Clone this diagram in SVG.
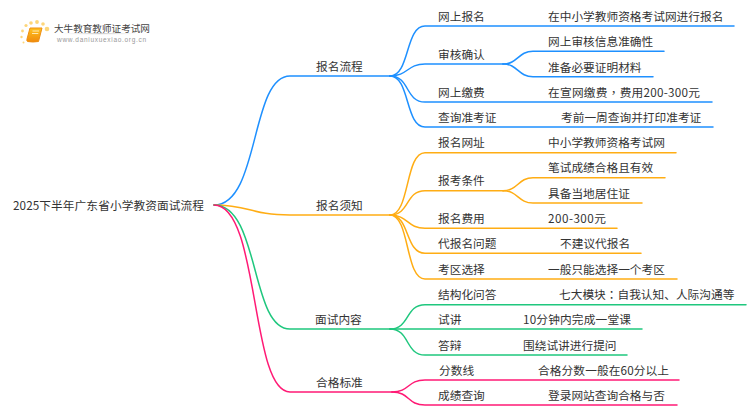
<svg xmlns="http://www.w3.org/2000/svg" width="750" height="410" viewBox="0 0 750 410">
<style>
text{font-family:"Noto Sans CJK SC","Noto Sans",sans-serif;font-size:11.7px;fill:#333}
.tc{font-family:"Noto Sans CJK TC","Noto Sans",sans-serif}
.c{fill:none;stroke-width:1.5;stroke-linecap:round}
.b{stroke:#1e90ff}.o{stroke:#ffad14}.g{stroke:#1fc77e}.p{stroke:#ff1a75}
.d{fill:#fdd67a}
</style>
<defs>
<linearGradient id="bk" x1="0" y1="0" x2="0" y2="1"><stop offset="0" stop-color="#ffc21f"/><stop offset="1" stop-color="#f08a0c"/></linearGradient>
<linearGradient id="ul" x1="0" y1="0" x2="1" y2="0"><stop offset="0" stop-color="#ddd" stop-opacity="0"/><stop offset=".5" stop-color="#ccc"/><stop offset="1" stop-color="#ddd" stop-opacity="0"/></linearGradient>
</defs>
<rect width="750" height="410" fill="#fff"/>
<g id="logo">
<circle class="d" cx="47" cy="29" r="2.300"/><circle class="d" cx="43" cy="24" r="1.800"/><circle class="d" cx="37" cy="22" r="1.900"/><circle class="d" cx="31" cy="23" r="1.800"/><circle class="d" cx="26" cy="25.500" r="1.600"/><circle class="d" cx="22.500" cy="31" r="1.400"/><circle class="d" cx="21.500" cy="37" r="1.200"/><circle class="d" cx="23.500" cy="42.500" r="1"/>
<path d="M30 28H42L38.500 41.500Q33 42.500 27.500 41.500Q26.500 41 27 39Z" fill="url(#bk)" stroke="#ee8f12" stroke-width="1" stroke-linejoin="round"/>
<path d="M32.500 31H39M32 33.500H38.300" stroke="#ffe9b0" stroke-width="1"/>
<text x="54" y="31.500" style="font-size:9.6px;fill:#444">大牛教育教师证考试网</text>
<rect x="62" y="33" width="76" height="1.200" fill="url(#ul)"/>
<text x="57" y="41.500" style="font-size:6.500px;fill:#999;letter-spacing:.7px;font-family:'Liberation Sans',sans-serif">www.daniuxuexiao.org.cn</text>
</g>
<g id="connectors">
<path class="c b" d="M214 205C260 205 250 76 290 76H390"/>
<path class="c o" d="M214 205C250 205 250 215 290 215H390"/>
<path class="c g" d="M214 205C260 205 250 329 290 329H390"/>
<path class="c p" d="M214 205C260 205 250 392 290 392H392"/>
<path class="c b" d="M390 76C410 76 405 26 425 26H734"/>
<path class="c b" d="M390 76C408 76 407 64 425 64H503"/>
<path class="c b" d="M503 64C518 64 518 51.300 533 51.300H664"/>
<path class="c b" d="M503 64C518 64 518 76.700 533 76.700H653"/>
<path class="c b" d="M390 76C410 76 405 102 425 102H712"/>
<path class="c b" d="M390 76C410 76 405 127 425 127H713"/>
<path class="c o" d="M390 215C410 215 405 152.700 425 152.700H676"/>
<path class="c o" d="M390 215C410 215 405 190.700 425 190.700H503"/>
<path class="c o" d="M503 190.700C518 190.700 518 177.700 533 177.700H665"/>
<path class="c o" d="M503 190.700C518 190.700 518 203 533 203H642"/>
<path class="c o" d="M390 215C408 215 407 228.300 425 228.300H617"/>
<path class="c o" d="M390 215C410 215 405 253.300 425 253.300H641"/>
<path class="c o" d="M390 215C410 215 405 279 425 279H677"/>
<path class="c g" d="M390 329C410 329 405 304.700 425 304.700H746"/>
<path class="c g" d="M390 329H642"/>
<path class="c g" d="M390 329C410 329 405 355 425 355H627"/>
<path class="c p" d="M392 392C410 392 407 380 425 380H679"/>
<path class="c p" d="M392 392C410 392 407 405 425 405H677"/>
</g>
<g id="root"><text x="13" y="210" textLength="191">2025下半年广东省小学教资面试流程</text></g>
<g id="n1"><text x="316" y="71">报名流程</text></g>
<g id="n1-1"><text x="438" y="21">网上报名</text><text x="548" y="21">在中小学教师资格考试网进行报名</text></g>
<g id="n1-2"><text x="438" y="59">审核确认</text><text x="548" y="46">网上审核信息准确性</text><text x="548" y="72">准备必要证明材料</text></g>
<g id="n1-3"><text x="438" y="97">网上缴费</text><text x="548" y="97" textLength="152">在宣网缴费<tspan class="tc">，</tspan>费用200-300元</text></g>
<g id="n1-4"><text x="438" y="122">查询准考证</text><text x="561" y="122">考前一周查询并打印准考证</text></g>
<g id="n2"><text x="316" y="210">报名须知</text></g>
<g id="n2-1"><text x="438" y="147">报名网址</text><text x="548" y="147">中小学教师资格考试网</text></g>
<g id="n2-2"><text x="438" y="185">报考条件</text><text x="548" y="172">笔试成绩合格且有效</text><text x="548" y="198">具备当地居住证</text></g>
<g id="n2-3"><text x="438" y="223">报名费用</text><text x="548" y="223" textLength="58">200-300元</text></g>
<g id="n2-4"><text x="438" y="248">代报名问题</text><text x="560" y="248">不建议代报名</text></g>
<g id="n2-5"><text x="438" y="274">考区选择</text><text x="548" y="274">一般只能选择一个考区</text></g>
<g id="n3"><text x="315" y="324">面试内容</text></g>
<g id="n3-1"><text x="438" y="299">结构化问答</text><text x="559" y="299">七大模块<tspan class="tc">：</tspan>自我认知、人际沟通等</text></g>
<g id="n3-2"><text x="438" y="324">试讲</text><text x="523" y="324" textLength="108">10分钟内完成一堂课</text></g>
<g id="n3-3"><text x="438" y="350">答辩</text><text x="523" y="350">围绕试讲进行提问</text></g>
<g id="n4"><text x="316" y="387">合格标准</text></g>
<g id="n4-1"><text x="439" y="375">分数线</text><text x="538" y="375" textLength="131">合格分数一般在60分以上</text></g>
<g id="n4-2"><text x="438" y="400">成绩查询</text><text x="548" y="400">登录网站查询合格与否</text></g>
</svg>
